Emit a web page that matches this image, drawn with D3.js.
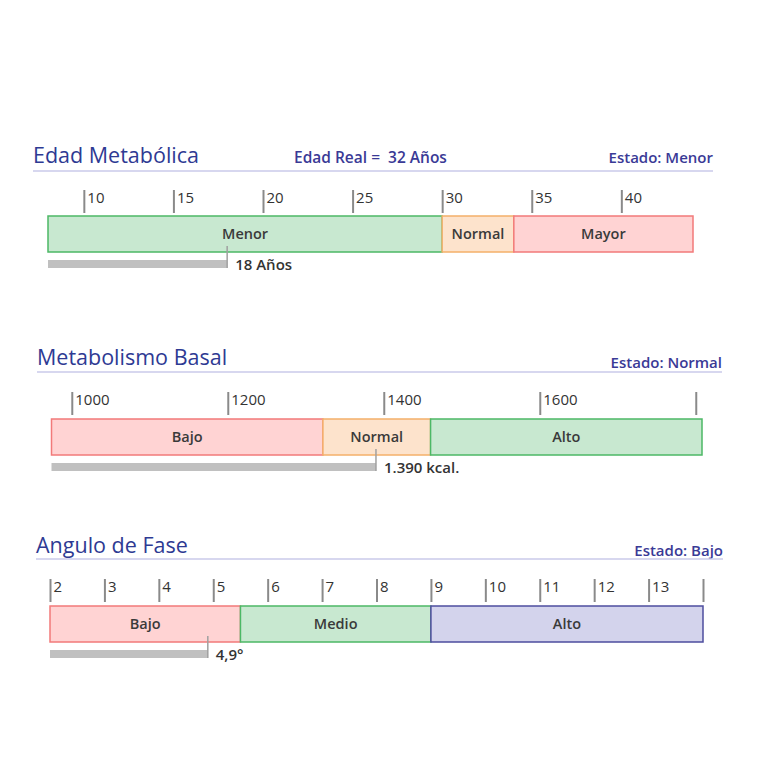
<!DOCTYPE html>
<html><head><meta charset="utf-8">
<script src="https://cdn.jsdelivr.net/npm/d3@7"></script>
<style>
html,body{margin:0;padding:0;background:#fff;}
svg text{font-family:"Open Sans","Noto Sans",sans-serif;}
</style></head>
<body>
<svg id="c" width="768" height="768"></svg>
<script>
// ---- Data ----
const edadTicks = [10, 15, 20, 25, 30, 35, 40];
const edadTickLabels = ["10", "15", "20", "25", "30", "35", "40"];
const edadBounds = [8, 30, 34, 44];
const edadBands = ["Menor", "Normal", "Mayor"];
const edadValue = 18;
const edadValueLabel = "18 Años";
const edadReal = "Edad Real =  32 Años";
const edadEstado = "Estado: Menor";

const metTicks = [1000, 1200, 1400, 1600, 1800];
const metTickLabels = ["1000", "1200", "1400", "1600", ""];
const metBounds = [974, 1322, 1460, 1808];
const metBands = ["Bajo", "Normal", "Alto"];
const metValue = 1390;
const metValueLabel = "1.390 kcal.";
const metEstado = "Estado: Normal";

const faseTicks = [2, 3, 4, 5, 6, 7, 8, 9, 10, 11, 12, 13, 14];
const faseTickLabels = ["2", "3", "4", "5", "6", "7", "8", "9", "10", "11", "12", "13", ""];
const faseBounds = [2, 5.5, 9, 14];
const faseBands = ["Bajo", "Medio", "Alto"];
const faseValue = 4.9;
const faseValueLabel = "4,9°";
const faseEstado = "Estado: Bajo";

// ---- Styles ----
const C = {
  green: {fill: "#c8e8d0", stroke: "#4cb866"},
  orange: {fill: "#fde3cc", stroke: "#f4b06a"},
  red: {fill: "#ffd3d3", stroke: "#f27a7a"},
  purple: {fill: "#d3d3ec", stroke: "#4d4d9e"}
};

const panels = [
  {title: "Edad Metabólica", sub: edadReal, estado: edadEstado, ticks: edadTicks, tickLabels: edadTickLabels,
   bounds: edadBounds, bands: edadBands, colors: [C.green, C.orange, C.red], value: edadValue, valueLabel: edadValueLabel,
   x0: 48, x1: 693, titleX: 33, sepX1: 713, titleY: 163, sepY: 171, tickTop: 190, barTop: 216},
  {title: "Metabolismo Basal", sub: null, estado: metEstado, ticks: metTicks, tickLabels: metTickLabels,
   bounds: metBounds, bands: metBands, colors: [C.red, C.orange, C.green], value: metValue, valueLabel: metValueLabel,
   x0: 51.5, x1: 702, titleX: 37, sepX1: 722, titleY: 365, sepY: 372, tickTop: 392, barTop: 419},
  {title: "Angulo de Fase", sub: null, estado: faseEstado, ticks: faseTicks, tickLabels: faseTickLabels,
   bounds: faseBounds, bands: faseBands, colors: [C.red, C.green, C.purple], value: faseValue, valueLabel: faseValueLabel,
   x0: 50, x1: 703, titleX: 36, sepX1: 723, titleY: 553, sepY: 559, tickTop: 579, barTop: 606}
];

const svg = d3.select("#c");

panels.forEach(p => {
  const g = svg.append("g");
  const x = d3.scaleLinear().domain([p.bounds[0], p.bounds[p.bounds.length - 1]]).range([p.x0, p.x1]);
  const barH = 36;

  // title
  g.append("text").attr("x", p.titleX).attr("y", p.titleY)
    .attr("font-size", 21.5).attr("fill", "#2e3a93").text(p.title);
  if (p.sub) {
    g.append("text").attr("x", 294).attr("y", p.titleY)
      .attr("font-size", 15.5).attr("font-weight", 600).attr("fill", "#3a3a96")
      .attr("xml:space", "preserve").style("white-space", "pre").text(p.sub);
  }
  g.append("text").attr("x", p.sepX1).attr("y", p.titleY + (p.sub ? 0 : 3)).attr("text-anchor", "end")
    .attr("font-size", 15).attr("font-weight", 600).attr("fill", "#3a3a96").text(p.estado);
  g.append("line").attr("x1", p.titleX).attr("x2", p.sepX1).attr("y1", p.sepY).attr("y2", p.sepY)
    .attr("stroke", "#cacaea").attr("stroke-width", 1.5);

  // ticks via axis
  const axis = d3.axisTop(x).tickValues(p.ticks).tickSize(0).tickFormat((d, i) => p.tickLabels[i]);
  const ag = g.append("g").attr("transform", `translate(0,${p.tickTop})`).call(axis);
  ag.select(".domain").remove();
  ag.selectAll(".tick line").attr("y1", 0).attr("y2", 23).attr("stroke", "#8a8a8a").attr("stroke-width", 2);
  ag.selectAll(".tick text").attr("text-anchor", "start").attr("x", 3).attr("y", 13).attr("dy", 0)
    .attr("font-size", 15).attr("font-weight", 500).attr("fill", "#333").attr("font-family", null);

  // bands
  const segs = p.bands.map((b, i) => ({name: b, a: p.bounds[i], b: p.bounds[i + 1], c: p.colors[i]}));
  g.selectAll("rect.band").data(segs).join("rect").attr("class", "band")
    .attr("x", d => x(d.a)).attr("width", d => x(d.b) - x(d.a))
    .attr("y", p.barTop).attr("height", barH)
    .attr("fill", d => d.c.fill).attr("stroke", d => d.c.stroke).attr("stroke-width", 1.5);
  g.selectAll("text.band").data(segs).join("text").attr("class", "band")
    .attr("x", d => (x(d.a) + x(d.b)) / 2).attr("y", p.barTop + 23).attr("text-anchor", "middle")
    .attr("font-size", 14.5).attr("font-weight", 600).attr("fill", "#3a3a3a").text(d => d.name);

  // value indicator
  const vx = x(p.value);
  g.append("rect").attr("x", p.x0).attr("y", p.barTop + 44).attr("width", vx - p.x0).attr("height", 8)
    .attr("fill", "#c0c0c0");
  g.append("line").attr("x1", vx).attr("x2", vx).attr("y1", p.barTop + 30).attr("y2", p.barTop + 52)
    .attr("stroke", "#a0a0a0").attr("stroke-width", 1.5);
  g.append("text").attr("x", vx + 8).attr("y", p.barTop + 54)
    .attr("font-size", 15).attr("font-weight", 600).attr("fill", "#333").text(p.valueLabel);
});
</script>
</body></html>
